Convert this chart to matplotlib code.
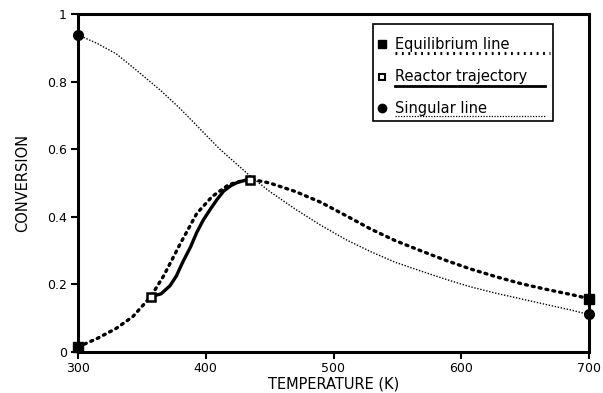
import matplotlib
matplotlib.use("Agg")
import matplotlib.pyplot as plt
from matplotlib.lines import Line2D
from matplotlib.patches import Rectangle

# Equilibrium line
eq_T = [300, 315, 330, 343, 357, 367, 380, 393, 405, 418, 430, 437, 450, 470, 490,
        510, 529, 548, 568, 588, 607, 627, 647, 667, 686, 700]
eq_X = [0.015, 0.040, 0.070, 0.105, 0.164, 0.225, 0.320, 0.410, 0.460, 0.495, 0.508,
        0.510, 0.500, 0.475, 0.443, 0.403, 0.364, 0.330, 0.300, 0.271, 0.246, 0.223,
        0.202, 0.185, 0.170, 0.158]

# Singular line
sg_T = [300, 315, 330, 345, 364, 380, 395, 411, 423, 435, 450, 470, 490, 510, 529,
        548, 568, 588, 607, 627, 647, 667, 686, 700]
sg_X = [0.938, 0.913, 0.882, 0.836, 0.776, 0.720, 0.662, 0.600, 0.560, 0.520, 0.475,
        0.423, 0.375, 0.332, 0.297, 0.266, 0.240, 0.215, 0.193, 0.174, 0.157, 0.140,
        0.124, 0.111]

# Reactor trajectory
tr_T = [357, 365, 372, 377, 382, 388, 393, 398, 403.5, 409, 414, 420, 425, 430, 435]
tr_X = [0.164, 0.172, 0.196, 0.225, 0.266, 0.310, 0.354, 0.390, 0.422, 0.452, 0.476,
        0.493, 0.502, 0.507, 0.509]

eq_marker_T = [300, 700]
eq_marker_X = [0.015, 0.158]
tr_marker_T = [357, 435]
tr_marker_X = [0.164, 0.509]
sg_marker_T = [300, 700]
sg_marker_X = [0.938, 0.111]

x_ticks = [300, 400, 500, 600, 700]
y_ticks = [0, 0.2, 0.4, 0.6, 0.8, 1]
y_tick_labels = ["0", "0.2", "0.4", "0.6", "0.8", "1"]
legend_labels = ["Equilibrium line", "Reactor trajectory", "Singular line"]

plt.rcParams['font.family'] = ['DejaVu Sans']

fig = plt.figure(figsize=(6.03, 3.93), dpi=100)
W, H = 603, 393
ax = fig.add_axes([78 / W, 1 - 352 / H, (589 - 78) / W, (352 - 14) / H])

ax.plot(eq_T, eq_X, color="black", lw=2.4, linestyle=(0, (0.6, 1.5)),
        dash_capstyle="round")
ax.plot(sg_T, sg_X, color="black", lw=1.0, linestyle=(0, (1, 1.2)))
ax.plot(tr_T, tr_X, color="black", lw=2.4, solid_capstyle="round")

ax.plot(eq_marker_T, eq_marker_X, linestyle="none", marker="s", ms=7,
        color="black", clip_on=False, zorder=5)
ax.plot(tr_marker_T, tr_marker_X, linestyle="none", marker="s", ms=6,
        mfc="white", mec="black", mew=1.8, clip_on=False, zorder=5)
ax.plot(sg_marker_T, sg_marker_X, linestyle="none", marker="o", ms=7,
        color="black", clip_on=False, zorder=5)

ax.set_xlim(300, 700)
ax.set_ylim(0, 1)
ax.set_xticks(x_ticks)
ax.set_xticklabels([str(t) for t in x_ticks])
ax.set_yticks(y_ticks)
ax.set_yticklabels(y_tick_labels)

for s in ax.spines.values():
    s.set_linewidth(2.2)
ax.tick_params(direction="out", length=5, width=1.5, labelsize=9, pad=3)
ax.tick_params(axis="x", pad=2)

ax.set_xlabel("TEMPERATURE (K)", fontsize=10.5, labelpad=1)
ax.set_ylabel("CONVERSION", fontsize=10.5, labelpad=12)

# custom legend in pixel coordinates (converted to axes fraction)
def ax_xy(px, py):
    return ((px - 78) / (589 - 78), (352 - py) / (352 - 14))

x0, y0 = ax_xy(373, 121)
x1, y1 = ax_xy(553, 24)
ax.add_patch(Rectangle((x0, y0), x1 - x0, y1 - y0, transform=ax.transAxes,
                       fill=True, facecolor="white", edgecolor="black", lw=1.2,
                       zorder=6))

rows = [(44, 53, 550), (76.7, 86, 545), (108, 116, 545)]
styles = [dict(lw=2.2, linestyle=(0, (0.6, 1.5))),
          dict(lw=2.0, linestyle="-"),
          dict(lw=0.9, linestyle=(0, (1, 1.2)))]
mk = [dict(marker="s", ms=6, color="black"),
      dict(marker="s", ms=5, mfc="white", mec="black", mew=1.5),
      dict(marker="o", ms=6, color="black")]

for (ty, uy, uend), st, m, lab in zip(rows, styles, mk, legend_labels):
    mx, my = ax_xy(382, ty)
    ax.add_line(Line2D([mx], [my], transform=ax.transAxes, linestyle="none",
                       zorder=7, **m))
    tx, tyy = ax_xy(395, ty)
    ax.text(tx, tyy, lab, transform=ax.transAxes, fontsize=10.5, va="center",
            ha="left", zorder=7)
    ux0, uyy = ax_xy(395, uy)
    ux1, _ = ax_xy(uend, uy)
    ax.add_line(Line2D([ux0, ux1], [uyy, uyy], transform=ax.transAxes,
                       color="black", zorder=7, **st))

fig.savefig("out.png", dpi=100)
